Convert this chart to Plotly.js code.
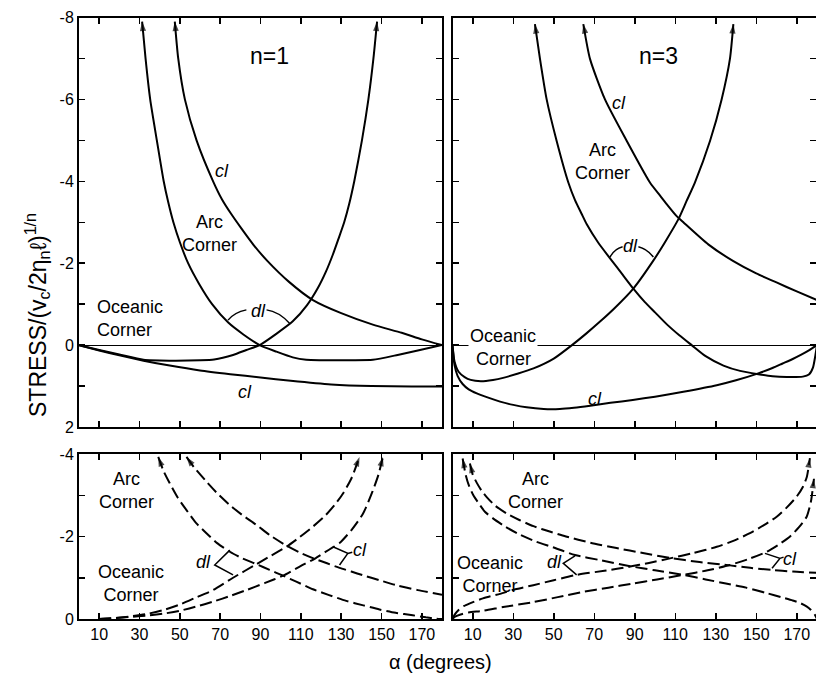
<!DOCTYPE html>
<html><head><meta charset="utf-8">
<script src="https://cdn.plot.ly/plotly-3.0.1.min.js"></script>
<style>html,body{margin:0;padding:0;background:#fff}#chart{width:816px;height:684px}</style>
</head><body><div id="chart"></div>
<script>
// ---------- data ----------
const xTicks = [10, 30, 50, 70, 90, 110, 130, 150, 170];
const yTicksTop = [-8, -6, -4, -2, 0, 2];
const yTicksBot = [-4, -2, 0];

// n = 1 (solid, upper left)
const n1ArcDlX = [31.3, 33.0, 35.3, 38.6, 42.0, 44.2, 46.8, 50.1, 54.1, 59.5, 66.0, 74.0, 81.5, 89.6, 97.9, 106, 112.7, 120, 135, 145.7, 158, 168, 180];
const n1ArcDlY = [-7.9, -7.0, -6.0, -5.0, -4.0, -3.5, -3.0, -2.5, -2.0, -1.5, -1.0, -0.55, -0.26, 0, 0.16, 0.30, 0.36, 0.37, 0.37, 0.36, 0.24, 0.13, 0];
const n1ArcClX = [47.5, 49.2, 52.5, 58.3, 66.5, 71.0, 75.5, 80.5, 86.5, 93.5, 104, 116, 130, 145.7, 160, 170, 180];
const n1ArcClY = [-7.9, -7.0, -6.0, -5.0, -4.0, -3.55, -3.2, -2.85, -2.45, -2.05, -1.55, -1.1, -0.78, -0.5, -0.3, -0.14, 0];
const n1OceDlX = [0, 10, 20, 32, 45, 60, 67, 76.4, 83, 89.6, 98, 106, 113, 118.5, 122.5, 125.8, 128.7, 131.5, 134, 136.5, 140.3, 143.5, 146, 147.8];
const n1OceDlY = [0, 0.12, 0.23, 0.36, 0.38, 0.37, 0.35, 0.24, 0.12, 0, -0.28, -0.58, -0.97, -1.4, -1.8, -2.2, -2.6, -3.0, -3.45, -4.0, -5.0, -6.0, -7.0, -7.9];
const n1OceClX = [0, 10, 20, 32, 45, 60, 75, 90, 105, 125, 145, 165, 180];
const n1OceClY = [0, 0.13, 0.25, 0.38, 0.5, 0.62, 0.71, 0.79, 0.87, 0.96, 1.0, 1.01, 1.01];

// n = 3 (solid, upper right)
const n3ArcDlX = [40.7, 43.2, 46.5, 51.4, 57.2, 60.5, 63.8, 66.3, 72, 77.8, 84, 89.3, 95, 100, 106, 112, 118.1, 125, 133.8, 142, 151, 158, 165, 173, 176, 178, 179.2, 180];
const n3ArcDlY = [-7.84, -6.99, -6.0, -4.99, -3.97, -3.54, -3.2, -2.95, -2.5, -2.12, -1.72, -1.38, -1.05, -0.8, -0.5, -0.24, 0, 0.27, 0.5, 0.63, 0.71, 0.76, 0.78, 0.77, 0.72, 0.55, 0.25, 0];
const n3ArcClX = [64.6, 67.9, 75.3, 86.0, 97.5, 102.5, 106, 110.7, 114, 126.3, 138.7, 150, 160, 170, 180];
const n3ArcClY = [-7.84, -6.99, -6.0, -4.99, -3.97, -3.65, -3.43, -3.15, -3.0, -2.46, -2.05, -1.75, -1.53, -1.31, -1.1];
const n3OceDlX = [0, 1, 3, 6, 9, 14, 20, 25, 32, 40, 50, 59, 66, 73, 80, 89.3, 99, 105, 111.5, 115.6, 119.7, 127.2, 132.9, 137, 138.7];
const n3OceDlY = [0, 0.4, 0.65, 0.78, 0.85, 0.88, 0.85, 0.8, 0.7, 0.57, 0.33, 0, -0.28, -0.58, -0.9, -1.38, -2.05, -2.52, -3.07, -3.52, -3.97, -4.99, -6.0, -6.99, -7.84];
const n3OceClX = [0, 1, 2.5, 5, 8, 12, 18, 23.5, 30, 36.6, 45, 53, 60, 68, 78, 89, 100, 114, 130.5, 140, 151, 158, 163, 168, 172, 176, 180];
const n3OceClY = [0, 0.49, 0.75, 0.95, 1.08, 1.18, 1.29, 1.38, 1.46, 1.52, 1.56, 1.56, 1.53, 1.48, 1.41, 1.34, 1.26, 1.14, 0.98, 0.86, 0.69, 0.56, 0.45, 0.34, 0.24, 0.13, 0];

// n = 1 (dashed, lower left)
const b1ArcDlX = [39.3, 42, 45, 49, 53.3, 58, 63.2, 68.5, 74.8, 81, 88, 94.5, 101.2, 108, 116, 124, 132.5, 141, 149, 157, 165.5, 172, 177, 180];
const b1ArcDlY = [-3.93, -3.58, -3.29, -2.94, -2.64, -2.33, -2.08, -1.84, -1.63, -1.47, -1.33, -1.19, -1.05, -0.9, -0.72, -0.58, -0.44, -0.33, -0.23, -0.15, -0.09, -0.04, -0.01, 0];
const b1ArcClX = [53.3, 57, 63.2, 68.5, 74.8, 81, 88, 95, 102.8, 110, 116.8, 123, 129.2, 135, 140.8, 149, 157.3, 168, 180];
const b1ArcClY = [-3.93, -3.68, -3.33, -3.05, -2.76, -2.52, -2.28, -2.02, -1.78, -1.6, -1.46, -1.35, -1.24, -1.15, -1.06, -0.94, -0.82, -0.7, -0.59];
const b1OceDlX = [10, 17, 25, 33.5, 42, 50, 58, 66.5, 76.4, 88, 95, 102.8, 109, 116, 122, 127, 131, 135, 139.1];
const b1OceDlY = [0, -0.02, -0.06, -0.12, -0.22, -0.35, -0.52, -0.7, -1.0, -1.33, -1.53, -1.75, -1.97, -2.24, -2.5, -2.78, -3.05, -3.4, -3.93];
const b1OceClX = [10, 17, 25, 33.5, 42, 50, 58, 66.5, 75, 83, 92, 101.2, 109, 116.8, 122, 126, 129.2, 135, 140.8, 145.6, 148.5, 150.7];
const b1OceClY = [0, -0.02, -0.05, -0.08, -0.13, -0.2, -0.3, -0.42, -0.56, -0.7, -0.87, -1.05, -1.26, -1.46, -1.62, -1.74, -1.84, -2.15, -2.55, -3.1, -3.5, -3.93];

// n = 3 (dashed, lower right)
const b3ArcDlX = [5, 6.5, 8, 10.3, 13, 16, 20, 26, 33, 41, 49.5, 60.5, 72.6, 87.7, 100, 114, 125, 135, 145, 155, 163, 168, 172, 175, 177, 179, 180];
const b3ArcDlY = [-3.89, -3.5, -3.25, -3.0, -2.8, -2.6, -2.44, -2.24, -2.05, -1.88, -1.74, -1.55, -1.43, -1.28, -1.18, -1.07, -0.96, -0.86, -0.76, -0.63, -0.52, -0.45, -0.38, -0.3, -0.22, -0.1, 0];
const b3ArcClX = [8.6, 10, 12, 14.5, 17, 21, 27, 33, 40, 48, 56, 68, 81, 94, 107.4, 122, 137, 147, 157.6, 168, 180];
const b3ArcClY = [-3.77, -3.5, -3.3, -3.1, -2.95, -2.75, -2.55, -2.4, -2.25, -2.12, -2.0, -1.85, -1.72, -1.6, -1.48, -1.38, -1.3, -1.24, -1.19, -1.15, -1.12];
const b3OceDlX = [0, 1, 3, 5.5, 8.6, 15, 23.5, 31, 39.9, 50, 61.3, 75, 87.7, 97, 107.4, 119, 130.5, 139, 146.9, 154, 160.1, 165, 170, 173, 175, 176.5];
const b3OceDlY = [0, -0.1, -0.22, -0.31, -0.38, -0.5, -0.61, -0.72, -0.82, -0.94, -1.07, -1.17, -1.27, -1.36, -1.47, -1.6, -1.75, -1.9, -2.08, -2.28, -2.48, -2.7, -2.97, -3.2, -3.45, -3.9];
const b3OceClX = [0, 1, 4, 8, 15.2, 25, 39.9, 52, 64.6, 77, 89.3, 101, 114, 126, 137, 146, 155.2, 161, 166.7, 171, 174.9, 177, 178.5];
const b3OceClY = [0, -0.05, -0.11, -0.16, -0.2, -0.29, -0.41, -0.53, -0.66, -0.76, -0.86, -0.96, -1.07, -1.18, -1.31, -1.45, -1.63, -1.8, -2.0, -2.22, -2.48, -2.85, -3.4];

// ---------- helpers ----------
const W = 816, H = 684;
const PX = v => v / W, PY = v => 1 - v / H;
const FONT = 'Liberation Sans, Arial, sans-serif';
const traces = [];
function axName(prefix, ax) { return prefix + (ax === 1 ? '' : ax); }
function line(xs, ys, ax, dashed) {
  traces.push({x: xs, y: ys, xaxis: axName('x', ax), yaxis: axName('y', ax), mode: 'lines', hoverinfo: 'skip',
    line: {color: '#000', width: 2, dash: dashed ? '12px,5px' : 'solid', shape: 'spline', smoothing: 0.6}});
}
function curve(xs, ys, ax, dashed, arrowAtStart) {
  line(xs, ys, ax, dashed);
  const n = xs.length;
  const ax2 = arrowAtStart ? [xs[1], xs[0]] : [xs[n - 2], xs[n - 1]];
  const ay2 = arrowAtStart ? [ys[1], ys[0]] : [ys[n - 2], ys[n - 1]];
  traces.push({x: ax2, y: ay2, xaxis: axName('x', ax), yaxis: axName('y', ax), mode: 'markers', hoverinfo: 'skip',
    marker: {symbol: 'arrow', angleref: 'previous', size: [0, 10], color: '#000', line: {width: 0}}});
}

curve(n1ArcDlX, n1ArcDlY, 1, false, true);
curve(n1ArcClX, n1ArcClY, 1, false, true);
curve(n1OceDlX, n1OceDlY, 1, false, false);
line(n1OceClX, n1OceClY, 1, false);

curve(n3ArcDlX, n3ArcDlY, 2, false, true);
curve(n3ArcClX, n3ArcClY, 2, false, true);
curve(n3OceDlX, n3OceDlY, 2, false, false);
line(n3OceClX, n3OceClY, 2, false);

curve(b1ArcDlX, b1ArcDlY, 3, true, true);
curve(b1ArcClX, b1ArcClY, 3, true, true);
curve(b1OceDlX, b1OceDlY, 3, true, false);
curve(b1OceClX, b1OceClY, 3, true, false);

curve(b3ArcDlX, b3ArcDlY, 4, true, true);
curve(b3ArcClX, b3ArcClY, 4, true, true);
curve(b3OceDlX, b3OceDlY, 4, true, false);
curve(b3OceClX, b3OceClY, 4, true, false);

// ---------- axes ----------
const tickFont = {family: FONT, size: 16, color: '#000'};
const minorX = {tickvals: [], ticks: ''};
function xa(dom, rng, labels, anchor) {
  return {domain: dom, range: rng, anchor: anchor, tickmode: 'array', tickvals: xTicks,
    ticktext: xTicks.map(String), showticklabels: labels, ticks: 'inside', ticklen: 6, tickwidth: 1.5,
    tickcolor: '#000', showline: true, linecolor: '#000', linewidth: 2, mirror: 'ticks',
    showgrid: false, zeroline: false, tickfont: tickFont, fixedrange: true};
}
function ya(dom, rng, vals, labels, anchor, zl) {
  return {domain: dom, range: rng, anchor: anchor, tickmode: 'array', tickvals: vals,
    ticktext: vals.map(String), showticklabels: labels, ticks: 'inside', ticklen: 6, tickwidth: 1.5,
    tickcolor: '#000', minor: {dtick: 1, tick0: 0, ticks: 'inside', ticklen: 6, tickwidth: 1.5, tickcolor: '#000', showgrid: false},
    showline: true, linecolor: '#000', linewidth: 2, mirror: 'ticks', showgrid: false,
    zeroline: zl, zerolinecolor: '#000', zerolinewidth: 1, tickfont: tickFont, fixedrange: true};
}
const leftDom = [PX(79), PX(442)], rightDom = [PX(452.5), 1];
const topDom = [PY(427), PY(17.5)], botDom = [PY(619), PY(454)];
const rightMax = (W - 452.5) / 2.025;

// ---------- labels ----------
const ann = [];
function lab(text, x, y, size, opts) {
  ann.push(Object.assign({text: text, xref: 'paper', yref: 'paper', x: PX(x), y: PY(y),
    xanchor: 'center', yanchor: 'middle', showarrow: false, borderpad: 0,
    font: {family: FONT, size: size || 18, color: '#000'}}, opts || {}));
}
lab('n=1', 269, 56, 23); lab('n=3', 658, 56, 23);
lab('<i>cl</i>', 222, 171, 18); lab('Arc<br>Corner', 210, 234);
lab('<i>dl</i>', 258, 311, 18); lab('Oceanic<br>Corner', 130, 319, 18, {align: 'left'});
lab('<i>cl</i>', 245, 392, 18);
lab('<i>cl</i>', 619, 103, 18); lab('Arc<br>Corner', 602, 161);
lab('<i>dl</i>', 630, 246, 18);
lab('Oceanic', 503, 336, 18, {bgcolor: '#fff', borderpad: 1}); lab('Corner', 503, 359);
lab('<i>cl</i>', 595, 399, 18);
lab('Arc<br>Corner', 126, 490); lab('Oceanic<br>Corner', 131, 583);
lab('<i>dl</i>', 203, 562, 18); lab('<i>cl</i>', 360, 550, 18);
lab('Arc<br>Corner', 535, 490); lab('Oceanic<br>Corner', 490, 574);
lab('<i>dl</i>', 554, 562, 18); lab('<i>cl</i>', 790, 559, 18);
lab('STRESS/(v<sub>c</sub>/2η<sub>n</sub>ℓ)<sup>1/n</sup>', 37, 315, 23, {textangle: -90});
lab('α (degrees)', 440, 662, 20);

// bracket lines pointing from labels to curves
const lineStyle = {color: '#000', width: 1.5};
const shapes = [
  {type: 'path', xref: 'x', yref: 'y', path: 'M73.9,-0.61 Q77,-0.8 83,-0.86', line: lineStyle},
  {type: 'path', xref: 'x', yref: 'y', path: 'M93,-0.86 Q99,-0.82 104.5,-0.53', line: lineStyle},
  {type: 'path', xref: 'x2', yref: 'y2', path: 'M77.8,-2.15 Q80,-2.35 84,-2.4', line: lineStyle},
  {type: 'path', xref: 'x2', yref: 'y2', path: 'M91.8,-2.4 Q96,-2.35 99.2,-2.15', line: lineStyle},
  {type: 'path', xref: 'x3', yref: 'y3', path: 'M74.8,-1.67 L67.3,-1.31 L76.4,-1.07', line: lineStyle},
  {type: 'path', xref: 'x3', yref: 'y3', path: 'M125.9,-1.75 L133.3,-1.59 L129.2,-1.31 M133.3,-1.59 L135.5,-1.62', line: lineStyle},
  {type: 'path', xref: 'x4', yref: 'y4', path: 'M60.5,-1.53 L54.7,-1.35 L61.3,-1.07', line: lineStyle},
  {type: 'path', xref: 'x4', yref: 'y4', path: 'M154.3,-1.59 L161.7,-1.47 L157.8,-1.23 M161.7,-1.47 L163.5,-1.5', line: lineStyle}
];

const layout = {
  width: W, height: H, margin: {l: 0, r: 0, t: 0, b: 0}, showlegend: false,
  paper_bgcolor: '#fff', plot_bgcolor: '#fff',
  xaxis: xa(leftDom, [0, 180], false, 'y'),
  xaxis2: xa(rightDom, [0, rightMax], false, 'y2'),
  xaxis3: xa(leftDom, [0, 180], true, 'y3'),
  xaxis4: xa(rightDom, [0, rightMax], true, 'y4'),
  yaxis: ya(topDom, [2, -8], yTicksTop, true, 'x', true),
  yaxis2: ya(topDom, [2, -8], yTicksTop, false, 'x2', true),
  yaxis3: ya(botDom, [0, -4], yTicksBot, true, 'x3', false),
  yaxis4: ya(botDom, [0, -4], yTicksBot, false, 'x4', false),
  annotations: ann, shapes: shapes
};
Plotly.newPlot('chart', traces, layout, {staticPlot: true, displayModeBar: false});
</script></body></html>
